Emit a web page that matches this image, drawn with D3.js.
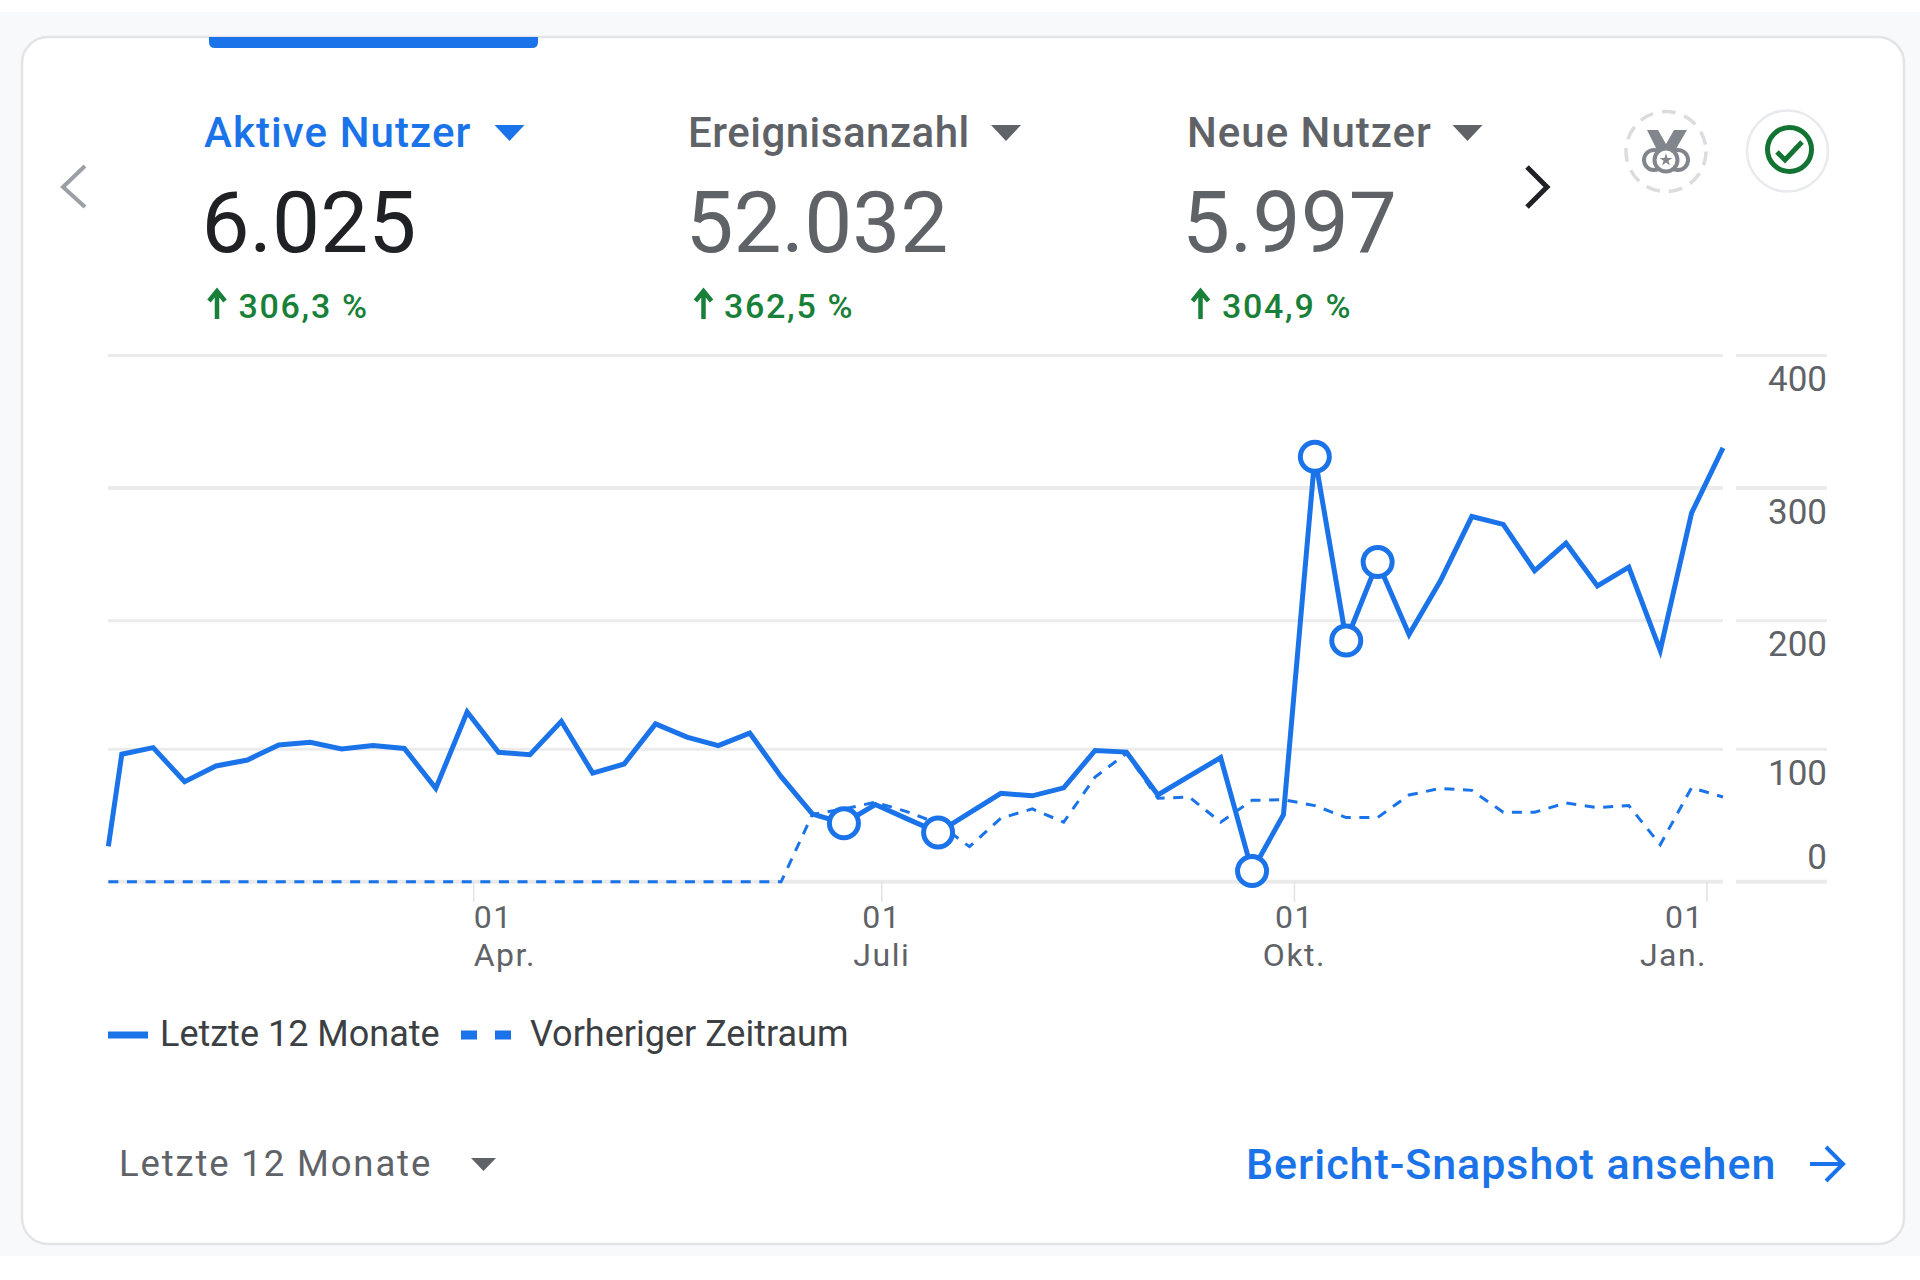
<!DOCTYPE html>
<html>
<head>
<meta charset="utf-8">
<script src="https://cdn.jsdelivr.net/npm/d3@7"></script>
<style>
  html, body { margin: 0; padding: 0; background: #fff; }
  svg { display: block; }
  text { font-family: Roboto, sans-serif; }
</style>
</head>
<body>
<svg id="chart" width="1920" height="1280"></svg>
<script>
// weekly points, the first one is a short partial week
const weeks = ["2024-01-11","2024-01-14","2024-01-21","2024-01-28","2024-02-04","2024-02-11","2024-02-18","2024-02-25","2024-03-03","2024-03-10","2024-03-17","2024-03-24","2024-03-31","2024-04-07","2024-04-14","2024-04-21","2024-04-28","2024-05-05","2024-05-12","2024-05-19","2024-05-26","2024-06-02","2024-06-09","2024-06-16","2024-06-23","2024-06-30","2024-07-07","2024-07-14","2024-07-21","2024-07-28","2024-08-04","2024-08-11","2024-08-18","2024-08-25","2024-09-01","2024-09-08","2024-09-15","2024-09-22","2024-09-29","2024-10-06","2024-10-13","2024-10-20","2024-10-27","2024-11-03","2024-11-10","2024-11-17","2024-11-24","2024-12-01","2024-12-08","2024-12-15","2024-12-22","2024-12-29","2025-01-05"];
const currentValues = [26.8,96.3,101.3,75.5,87.4,91.9,103.4,105.4,100.3,102.9,100.7,70.5,129,97.7,95.9,121.8,82,88.9,119.8,109.5,102.9,112.6,79.4,51.1,44.2,58.3,47.7,37.2,52,66.8,64.9,70.9,99.1,97.9,65.5,79.8,93.7,8.1,50.6,323.6,184.6,244.2,189.3,230.1,278.5,272.6,237.7,258.4,226.2,240.3,176.9,281.2,330.2];
const previousValues = [0,0,0,0,0,0,0,0,0,0,0,0,0,0,0,0,0,0,0,0,0,0,0,51,55,60,53,44,26.5,48,55,45,79,97,63,64,45,61.5,62,57.5,48.5,48.5,65.5,70.5,69,52.5,52.5,59.5,56,57.5,28,71,64];
const markedWeeks = [24,27,37,39,40,41]; // indexes with a ring on the line
const yTicks = [0,100,200,300,400];
const xTicks = ["2024-04-01","2024-07-01","2024-10-01","2025-01-01"];
const xTickDays = ["01","01","01","01"];
const xTickMonths = ["Apr.","Juli","Okt.","Jan."];
const xTickAnchors = ["start","middle","middle","end"];
const metricNames = ["Aktive Nutzer","Ereignisanzahl","Neue Nutzer"];
const metricTotals = ["6.025","52.032","5.997"];
const metricChanges = ["306,3 %","362,5 %","304,9 %"];

const BLUE = "#1a73e8", GREY = "#5f6368", GREEN = "#188038", GRID = "#ebebeb", ICON = "#80868b";
const parseDay = d3.timeParse("%Y-%m-%d");

const svg = d3.select("#chart");

// page and card
svg.append("rect").attr("x", 0).attr("y", 12).attr("width", 1920).attr("height", 1244).attr("fill", "#f8f9fa");
svg.append("rect").attr("x", 22).attr("y", 37).attr("width", 1882).attr("height", 1207).attr("rx", 26)
  .attr("fill", "#fff").attr("stroke", "#e2e4e7").attr("stroke-width", 2.5);
// selected tab marker
svg.append("path").attr("d", "M209,37H538V42Q538,48 532,48H215Q209,48 209,42Z").attr("fill", BLUE);

// metric headers
const metricX = [204, 688, 1187];
const totalX = [201.5, 685.5, 1182];
const nameSpacing = [1.1, 0.5, 1.0];
const caretX = [509.5, 1006, 1467.5];
const arrowX = [217, 703.5, 1200.5];
const changeX = [238.5, 724, 1222];
metricNames.forEach((name, i) => {
  const col = i === 0 ? BLUE : GREY;
  svg.append("text").attr("x", metricX[i]).attr("y", 147).attr("font-size", 42).attr("font-weight", 500)
    .attr("letter-spacing", nameSpacing[i]).attr("fill", col).text(name);
  svg.append("path").attr("d", `M${caretX[i]-15},125h30l-15,16z`).attr("fill", col);
  svg.append("text").attr("x", totalX[i]).attr("y", 252).attr("font-size", 85.5)
    .attr("fill", i === 0 ? "#202124" : GREY).text(metricTotals[i]);
  svg.append("path").attr("d", `M${arrowX[i]},319V293M${arrowX[i]-8},301L${arrowX[i]},291L${arrowX[i]+8},301`)
    .attr("fill", "none").attr("stroke", GREEN).attr("stroke-width", 4.5);
  svg.append("text").attr("x", changeX[i]).attr("y", 318).attr("font-size", 34).attr("font-weight", 500)
    .attr("fill", GREEN).attr("letter-spacing", 1.7).text(metricChanges[i]);
});

// paging chevrons
svg.append("path").attr("d", "M85,166L63,187L85,207").attr("fill", "none").attr("stroke", "#9aa0a6").attr("stroke-width", 4);
svg.append("path").attr("d", "M1527,167L1547,187L1527,207").attr("fill", "none").attr("stroke", "#202124").attr("stroke-width", 5);

// medal badge
const badge = svg.append("g");
badge.append("circle").attr("cx", 1666).attr("cy", 151.5).attr("r", 40).attr("fill", "#fff")
  .attr("stroke", "#dadce0").attr("stroke-width", 3.5).attr("stroke-dasharray", "14 9");
badge.append("path").attr("d", "M1647,130h11l8,14l8,-14h13l-14,24h-14z").attr("fill", ICON);
badge.append("circle").attr("cx", 1654).attr("cy", 160).attr("r", 10).attr("fill", "#fff").attr("stroke", ICON).attr("stroke-width", 4);
badge.append("circle").attr("cx", 1678).attr("cy", 160).attr("r", 10).attr("fill", "#fff").attr("stroke", ICON).attr("stroke-width", 4);
badge.append("circle").attr("cx", 1666).attr("cy", 160).attr("r", 11.5).attr("fill", "#fff").attr("stroke", ICON).attr("stroke-width", 4);
badge.append("path").attr("transform", "translate(1666,160)").attr("d", d3.symbol(d3.symbolStar, 50)()).attr("fill", ICON);

// check badge
const check = svg.append("g");
check.append("circle").attr("cx", 1787.5).attr("cy", 151).attr("r", 40.5).attr("fill", "#fff").attr("stroke", "#e8eaed").attr("stroke-width", 2.5);
check.append("circle").attr("cx", 1789.5).attr("cy", 149.5).attr("r", 22).attr("fill", "none").attr("stroke", "#137333").attr("stroke-width", 5);
check.append("path").attr("d", "M1777,152L1785,160L1802,142").attr("fill", "none").attr("stroke", "#137333").attr("stroke-width", 5);

// scales, the grid lines in the picture are not quite evenly spaced
const dates = weeks.map(parseDay);
const xScale = d3.scaleTime()
  .domain([parseDay("2024-01-14"), parseDay("2025-01-05")])
  .range([121.8, 1723]);
const yScale = d3.scaleLinear().domain(yTicks).range([881.8, 749.3, 620.7, 488, 355.4]);

// grid lines, split in a plot part and a label part
const grid = svg.append("g");
[[108, 1723], [1736, 1827]].forEach(([x1, x2]) => {
  grid.selectAll(null).data(yTicks).enter().append("line")
    .attr("x1", x1).attr("x2", x2)
    .attr("y1", d => yScale(d)).attr("y2", d => yScale(d))
    .attr("stroke", GRID).attr("stroke-width", d => (d === 0 || d === 300) ? 4 : 3);
});

// y labels sit under their grid line, only 0 sits above
const yAxis = d3.axisLeft(yScale).tickValues(yTicks).tickSize(0).tickPadding(0);
const yAxisGroup = svg.append("g").attr("transform", "translate(1827,0)").call(yAxis);
yAxisGroup.select(".domain").remove();
yAxisGroup.selectAll("text")
  .attr("font-size", 35).attr("font-family", "Roboto, sans-serif").attr("fill", GREY)
  .attr("dy", null)
  .attr("y", d => d === 0 ? -13 : 35);

// x axis with two line labels
const xTickDates = xTicks.map(parseDay);
const xAxis = d3.axisBottom(xScale).tickValues(xTickDates).tickSize(20).tickFormat("");
const xAxisGroup = svg.append("g").attr("transform", `translate(1.5,${yScale(0)})`).call(xAxis);
xAxisGroup.select(".domain").remove();
xAxisGroup.selectAll("line").attr("stroke", "#e3e3e3").attr("stroke-width", 1.5);
xAxisGroup.selectAll("text").remove();
xAxisGroup.selectAll(".tick").each(function (d, i) {
  const tick = d3.select(this);
  const anchor = xTickAnchors[i];
  tick.append("text").attr("x", anchor === "end" ? -3 : 0).attr("y", 46).attr("text-anchor", anchor)
    .attr("font-size", 32).attr("letter-spacing", 1.5).attr("fill", GREY).text(xTickDays[i]);
  tick.append("text").attr("y", 84).attr("text-anchor", anchor)
    .attr("font-size", 32).attr("letter-spacing", 1.5).attr("fill", GREY).text(xTickMonths[i]);
});

// lines
const line = d3.line().x((d, i) => xScale(dates[i])).y(d => yScale(d));
svg.append("path").attr("d", line(previousValues)).attr("fill", "none")
  .attr("stroke", BLUE).attr("stroke-width", 3).attr("stroke-dasharray", "10 8.6");
svg.append("path").attr("d", line(currentValues)).attr("fill", "none")
  .attr("stroke", BLUE).attr("stroke-width", 5).attr("stroke-linejoin", "miter");

// anomaly rings
svg.selectAll(".ring").data(markedWeeks).enter().append("circle")
  .attr("class", "ring")
  .attr("cx", i => xScale(dates[i])).attr("cy", i => yScale(currentValues[i]))
  .attr("r", 14.5).attr("fill", "#fff").attr("stroke", BLUE).attr("stroke-width", 5);

// legend
svg.append("line").attr("x1", 108).attr("x2", 148).attr("y1", 1035).attr("y2", 1035).attr("stroke", BLUE).attr("stroke-width", 7);
svg.append("text").attr("x", 160).attr("y", 1045.5).attr("font-size", 36).attr("fill", "#3c4043").text("Letzte 12 Monate");
svg.append("line").attr("x1", 461).attr("x2", 512).attr("y1", 1035).attr("y2", 1035).attr("stroke", BLUE).attr("stroke-width", 9).attr("stroke-dasharray", "16 18");
svg.append("text").attr("x", 530).attr("y", 1045.5).attr("font-size", 36).attr("fill", "#3c4043").text("Vorheriger Zeitraum");

// footer
svg.append("text").attr("x", 119).attr("y", 1176).attr("font-size", 36.5).attr("letter-spacing", 1.85).attr("fill", GREY).text("Letzte 12 Monate");
svg.append("path").attr("d", "M471,1158h25l-12.5,13z").attr("fill", GREY);
svg.append("text").attr("x", 1246).attr("y", 1179).attr("font-size", 43).attr("font-weight", 500).attr("letter-spacing", 0.95).attr("fill", BLUE).text("Bericht-Snapshot ansehen");
svg.append("path").attr("d", "M1810,1164H1843M1826,1147L1843,1164L1826,1181").attr("fill", "none").attr("stroke", BLUE).attr("stroke-width", 4);
</script>
</body>
</html>
